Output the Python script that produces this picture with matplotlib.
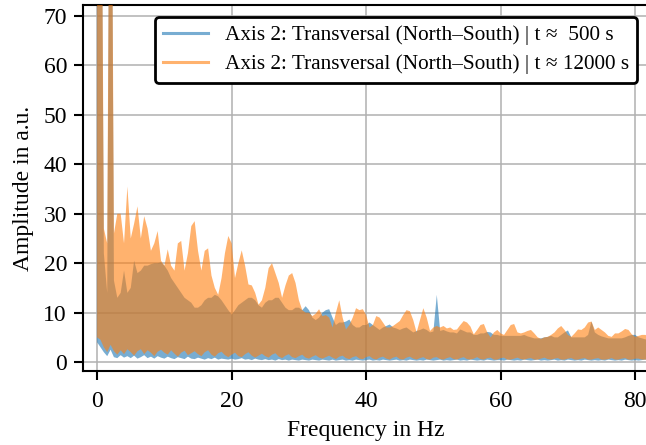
import numpy as np
import matplotlib
matplotlib.use("Agg")
import matplotlib.pyplot as plt
from matplotlib.lines import Line2D

# ---------------- data ----------------
STEP_HZ = 0.5
N_POINTS = 165
freq = np.arange(N_POINTS) * STEP_HZ  # 0 ... 82 Hz

label_500 = "Axis 2: Transversal (North\u2013South) | t \u2248  500 s"
label_12000 = "Axis 2: Transversal (North\u2013South) | t \u2248 12000 s"

# upper envelope of the t ~ 500 s spectrum
blue_hi = [
    120, 140, 22, 14, 150, 16.5, 13, 14, 18.5, 14,
    15, 20.5, 18, 18.5, 19.5, 19.5, 19.8, 20, 20, 20.2,
    19.5, 18.5, 17, 16, 15, 14, 13, 12.5, 12, 11,
    11, 11.5, 12.5, 13, 13, 13.6, 13.3, 12.5, 11.5, 10.5,
    9.6, 10.5, 11.5, 12, 12.5, 13, 13, 12.5, 11.5, 11,
    12, 12.5, 12.5, 13, 13, 12, 11, 10.5, 10.5, 11,
    11, 10.5, 11.3, 10.5, 9, 8.5, 9, 10, 10.5, 10.7,
    9, 7.5, 8, 8, 8.2, 8.6, 7.5, 7, 7, 7.5,
    7.5, 8, 7.5, 7, 6.5, 7, 7.3, 7.6, 7, 6.8,
    6.5, 6.8, 7, 6.5, 6, 6.3, 6.5, 6.8, 6.5, 6,
    6.2, 13.6, 6.3, 6.5, 6.2, 6, 6, 5.8, 6.6, 6.3,
    6, 6, 5.5, 5.5, 5.8, 5.8, 6.1, 6, 5.5, 5.5,
    5.3, 5.3, 5.3, 5.3, 5.3, 5.3, 5.3, 5.5, 5.2, 5,
    4.8, 4.8, 4.8, 5, 5.1, 5.3, 5, 5, 5.5, 6,
    6.4, 5, 5, 5, 5, 5, 5.5, 8.2, 6, 5.5,
    5.2, 5, 4.8, 4.8, 4.8, 4.8, 4.8, 5, 5.3, 5.5,
    5.5, 5, 4.8, 4.6, 4.5,
]
# lower envelope of the t ~ 500 s spectrum
blue_lo = [
    4, 3, 2, 1.2, 2.5, 1, 0.8, 1.4, 0.9, 1.2,
    0.8, 1.3, 0.7, 1, 1.4, 0.8, 1.1, 0.7, 1.2, 0.9,
    0.7, 1.1, 0.8, 0.6, 1, 0.8, 0.6, 1.1, 0.7, 0.6,
    0.9, 0.7, 0.5, 0.8, 0.6, 0.9, 0.5, 0.7, 0.6, 0.5,
    0.7, 0.5, 0.6, 0.8, 0.5, 0.6, 0.4, 0.7, 0.5, 0.4,
    0.6, 0.4, 0.5, 0.3, 0.6, 0.4, 0.5, 0.3, 0.5, 0.4,
    0.3, 0.5, 0.4, 0.3, 0.5, 0.4, 0.3, 0.5, 0.4, 0.3,
    0.5, 0.3, 0.4, 0.5, 0.3, 0.4, 0.3, 0.5, 0.4, 0.3,
    0.4, 0.5, 0.3, 0.4, 0.3, 0.5, 0.4, 0.3, 0.4, 0.5,
    0.3, 0.4, 0.3, 0.5, 0.4, 0.3, 0.4, 0.3, 0.5, 0.4,
    0.3, 0.4, 0.5, 0.3, 0.4, 0.3, 0.4, 0.5, 0.3, 0.4,
    0.3, 0.5, 0.4, 0.3, 0.4, 0.3, 0.5, 0.4, 0.3, 0.4,
    0.4, 0.3, 0.5, 0.4, 0.3, 0.4, 0.3, 0.5, 0.4, 0.3,
    0.4, 0.5, 0.3, 0.4, 0.3, 0.4, 0.5, 0.3, 0.4, 0.3,
    0.5, 0.4, 0.3, 0.4, 0.3, 0.5, 0.4, 0.3, 0.4, 0.3,
    0.4, 0.3, 0.5, 0.4, 0.3, 0.4, 0.3, 0.5, 0.4, 0.3,
    0.4, 0.3, 0.4, 0.5, 0.3,
]
# upper envelope of the t ~ 12000 s spectrum
orange_hi = [
    110, 150, 27, 24, 150, 26, 30, 30, 24, 35.5,
    25, 28, 31.5, 25, 29.5, 27, 22.5, 24, 26.5, 20.5,
    19.5, 22.8, 19.5, 18.5, 24, 24.5, 18.5, 22, 27.5, 28.5,
    22.5, 18.5, 22.5, 23, 17.5, 15, 13.6, 17, 22, 25.5,
    24, 17, 20, 22.6, 19.5, 15.7, 15.5, 14, 11.6, 12.5,
    15, 19, 20, 18, 16, 13, 15.5, 17.5, 18, 16,
    12.5, 10.5, 10, 10, 9.3, 9.8, 10.7, 9.3, 9.5, 9,
    7, 10, 12.5, 9, 6.6, 7.5, 9, 10.9, 10.5, 10.7,
    9.5, 7, 7.5, 9.3, 9, 8, 7, 7, 7.3, 7.8,
    8.3, 9.5, 10.5, 10.3, 8.5, 6, 8.5, 10.9, 9, 6.3,
    7, 7.3, 7, 7.3, 6.8, 7, 6.5, 6.6, 7.5, 8.3,
    8, 7.2, 5.6, 6.5, 7.5, 7.7, 6, 5, 6, 6.5,
    5.8, 5.5, 6.5, 7.5, 7.7, 6, 5.8, 6, 6.3, 6.5,
    5.8, 5, 4.7, 5, 5.1, 5.5, 6, 6.8, 7.3, 6.5,
    5.5, 5.1, 5.8, 6.6, 6.5, 7, 8, 8.2, 6.5, 7,
    6.5, 6, 5.3, 5.1, 5.8, 5.8, 6.2, 6.7, 6.5, 5.6,
    5.1, 5.3, 5.5, 5.5, 5.2,
]
# lower envelope of the t ~ 12000 s spectrum
orange_lo = [
    5, 4.5, 3, 2, 3.5, 2.2, 1.5, 2.4, 1.6, 2.6,
    2, 1.3, 2.2, 2.6, 1.6, 2.4, 1.9, 1.2, 2.1, 2.5,
    1.9, 1.5, 2.4, 1.7, 1.1, 1.9, 2.3, 1.4, 1.8, 2.2,
    1.6, 1.2, 2, 2.4, 1.5, 1.1, 1.8, 2.1, 1.4, 1,
    1.5, 1.9, 1.2, 1, 1.6, 2, 1.3, 0.9, 1.3, 1.7,
    1.2, 0.9, 1.5, 1.8, 1.1, 0.8, 1.3, 1.6, 1, 0.8,
    1.2, 1.5, 0.9, 0.7, 1.1, 1.4, 0.9, 0.7, 1, 1.3,
    0.9, 0.6, 1.1, 1.3, 0.8, 0.6, 1, 1.2, 0.7, 0.6,
    1, 1.2, 0.7, 0.5, 0.9, 1.1, 0.7, 0.5, 0.9, 1.1,
    0.6, 0.5, 0.9, 1.1, 0.7, 0.5, 0.8, 1, 0.6, 0.5,
    0.9, 1, 0.6, 0.5, 0.8, 1, 0.6, 0.5, 0.8, 1,
    0.6, 0.5, 0.7, 1, 0.6, 0.5, 0.8, 0.9, 0.5, 0.5,
    0.8, 0.9, 0.5, 0.5, 0.7, 0.9, 0.6, 0.5, 0.7, 0.8,
    0.5, 0.5, 0.7, 0.9, 0.6, 0.5, 0.7, 0.8, 0.5, 0.5,
    0.7, 0.8, 0.5, 0.5, 0.7, 0.8, 0.5, 0.5, 0.7, 0.8,
    0.5, 0.5, 0.6, 0.8, 0.5, 0.5, 0.7, 0.8, 0.5, 0.5,
    0.7, 0.7, 0.5, 0.5, 0.6,
]

x_ticks = [0, 20, 40, 60, 80]
y_ticks = [0, 10, 20, 30, 40, 50, 60, 70]

# ---------------- style ----------------
plt.rcParams["font.family"] = ["Liberation Serif", "DejaVu Serif"]
BLUE = "#1f77b4"
ORANGE = "#ff7f0e"
ALPHA = 0.6

fig = plt.figure(figsize=(6.46, 4.45), dpi=100)
W, H = 646.0, 445.0
ax = fig.add_axes([83 / W, (H - 371) / H, 566 / W, 366 / H])

ax.fill_between(freq, blue_lo, blue_hi, color=BLUE, alpha=ALPHA, lw=0, zorder=2)
ax.fill_between(freq, orange_lo, orange_hi, color=ORANGE, alpha=ALPHA, lw=0, zorder=3)

ax.set_xlim(-2.1, 82.05)
ax.set_ylim(-1.8, 72.2)
ax.set_xticks(x_ticks)
ax.set_yticks(y_ticks)
ax.set_axisbelow(True)
ax.grid(True, color="#b0b0b0", lw=1.1)

for sp in ax.spines.values():
    sp.set_linewidth(1.5)
    sp.set_color("black")
ax.tick_params(axis="both", direction="out", length=6.5, width=1.5,
               labelsize=17, colors="black")
ax.tick_params(axis="x", pad=8)
ax.tick_params(axis="y", pad=5)

ax.set_xlabel("Frequency in Hz", fontsize=17, labelpad=6)
ax.set_ylabel("Amplitude in a.u.", fontsize=17, labelpad=7)

handles = [
    Line2D([], [], color=BLUE, alpha=ALPHA, lw=2.2),
    Line2D([], [], color=ORANGE, alpha=ALPHA, lw=2.2),
]
leg = ax.legend(handles, [label_500, label_12000], loc="upper right",
                fontsize=15.3, frameon=True, fancybox=True, framealpha=1.0,
                edgecolor="black", handlelength=2.1, labelspacing=0.45,
                borderaxespad=0.55)
leg.get_frame().set_linewidth(2.0)

fig.savefig("out.png", dpi=100)
